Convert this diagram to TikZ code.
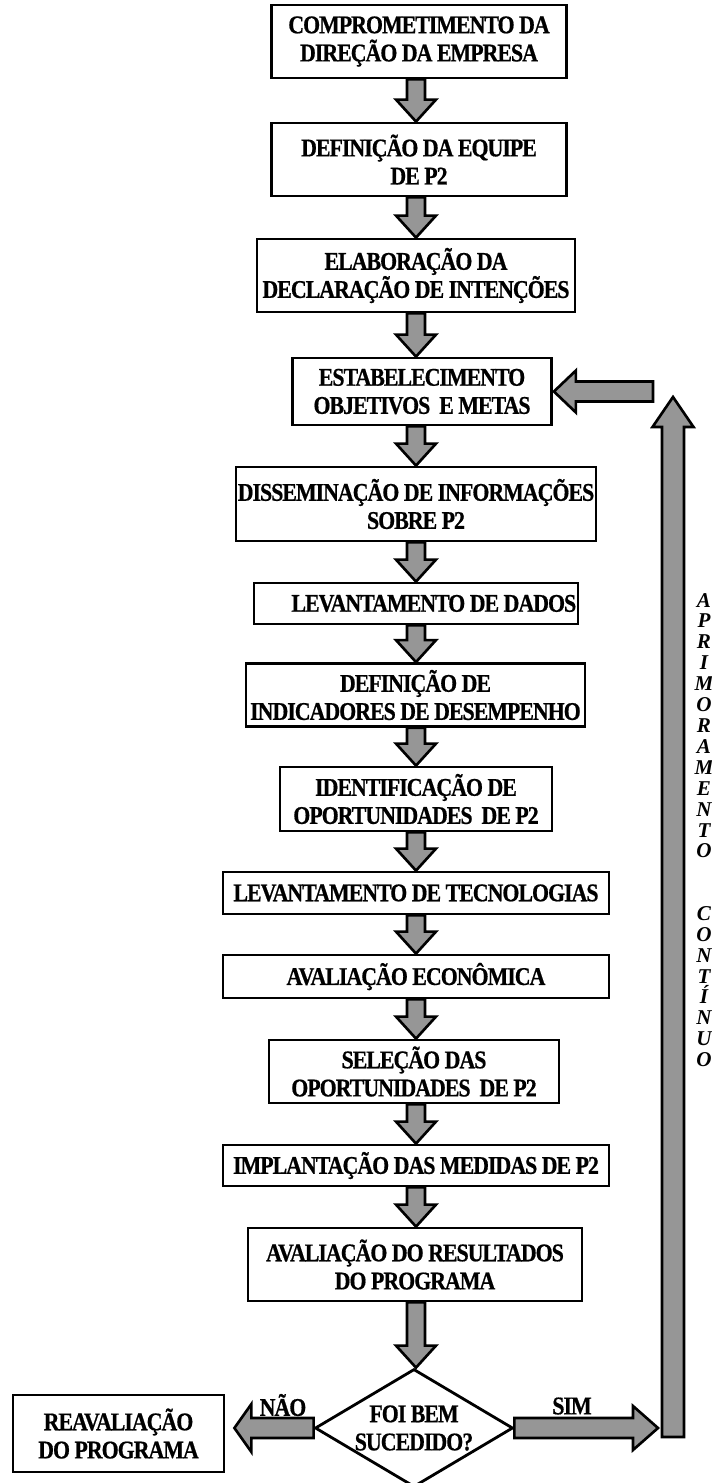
\documentclass[tikz,border=0pt]{standalone}
\usepackage{fontspec}
\setmainfont{Liberation Serif}[FakeStretch=0.86, LetterSpace=-4, BoldFeatures={FakeBold=0.6}]
\newfontfamily\sidefont{Liberation Serif}
\usetikzlibrary{calc,shapes.geometric}
\definecolor{arrowgray}{RGB}{150,150,150}
\tikzset{wh/.style 2 args={minimum width=#1*0.02cm, minimum height=#2*0.02cm}}

\begin{document}
\begin{tikzpicture}[x=0.02cm, y=-0.02cm,
  box/.style={draw, line width=1.6pt, fill=white, align=center, inner sep=1pt,
    font=\fontsize{14.5}{16}\selectfont\bfseries},
  fat/.style={draw, line width=1.5pt, fill=arrowgray, line join=miter},
  lbl/.style={font=\fontsize{14.5}{16}\selectfont\bfseries}]
\useasboundingbox (0,0) rectangle (712,1483);
\coordinate (spine) at (416,0);
% steps
\node[box, wh={295}{73}] (b1) at (419,41.5) {COMPROMETIMENTO DA\\DIREÇÃO DA EMPRESA};
\node[box, wh={295}{73}] (b2) at (419,159.5) {DEFINIÇÃO DA EQUIPE\\DE P2};
\node[box, wh={318}{73}] (b3) at (416,275.5) {ELABORAÇÃO DA\\DECLARAÇÃO DE INTENÇÕES};
\node[box, wh={259}{67}] (b4) at (422,391.5) {ESTABELECIMENTO\\OBJETIVOS~~E METAS};
\node[box, wh={360}{74}] (b5) at (416,504) {DISSEMINAÇÃO DE INFORMAÇÕES\\SOBRE P2};
\node[box, wh={316}{41}] (b6) at (416,603.5) {\hspace*{1.4em}LEVANTAMENTO DE DADOS};
\node[box, wh={339}{63}] (b7) at (415.5,695) {DEFINIÇÃO DE\\INDICADORES DE DESEMPENHO};
\node[box, wh={272}{64}] (b8) at (416,799) {IDENTIFICAÇÃO DE\\OPORTUNIDADES~~DE P2};
\node[box, wh={386}{42}] (b9) at (416,893) {LEVANTAMENTO DE TECNOLOGIAS};
\node[box, wh={386}{43}] (b10) at (416,976.5) {AVALIAÇÃO ECONÔMICA};
\node[box, wh={290}{63}] (b11) at (414,1071.5) {SELEÇÃO DAS\\OPORTUNIDADES~~DE P2};
\node[box, wh={386}{41}] (b12) at (416,1165.5) {IMPLANTAÇÃO DAS MEDIDAS DE P2};
\node[box, wh={334}{73}] (b13) at (415,1264.5) {AVALIAÇÃO DO RESULTADOS\\DO PROGRAMA};
% decision
\node[box, diamond, inner sep=0pt, aspect=1.68, wh={198}{118}] (dia) at (414,1428) {FOI BEM\\SUCEDIDO?};
\node[box, wh={211}{77}] (reav) at (118.5,1433.5) {REAVALIAÇÃO\\DO PROGRAMA};
% arrows down the chain
\foreach \a/\b in {b1/b2,b2/b3,b3/b4,b4/b5,b5/b6,b6/b7,b7/b8,b8/b9,b9/b10,b10/b11,b11/b12,b12/b13,b13/dia}
  \draw[fat] ($(\a.south -| spine)+(-9,0)$) -- ($(\b.north -| spine)+(-9,-22)$) -- ++(-11,0)
    -- (\b.north -| spine) -- ($(\b.north -| spine)+(20,-22)$) -- ++(-11,0)
    -- ($(\a.south -| spine)+(9,0)$) -- cycle;
% no / yes
\coordinate (ntip) at ($(reav.east |- dia.west)+(9,0)$);
\draw[fat] ($(dia.west)+(0,-10)$) -- ($(ntip)+(17,-10)$) -- ++(0,-14) -- (ntip)
  -- ($(ntip)+(17,24)$) -- ++(0,-14) -- ($(dia.west)+(0,10)$) -- cycle;
\node[lbl] (no) at (283,1405) {NÃO};
\coordinate (rtop) at (673,397);
\coordinate (rbot) at (673,1437);
\coordinate (ytip) at ($(dia.east -| rbot)+(-15,0)$);
\draw[fat] ($(dia.east)+(0,-10)$) -- ($(ytip)+(-25,-10)$) -- ++(0,-12) -- (ytip)
  -- ($(ytip)+(-25,22)$) -- ++(0,-12) -- ($(dia.east)+(0,10)$) -- cycle;
\node[lbl] (yes) at (572,1406) {SIM};
% feedback loop
\draw[fat] ($(rbot)+(-11,0)$) -- ($(rtop)+(-11,30)$) -- ++(-9.5,0) -- (rtop)
  -- ($(rtop)+(20.5,30)$) -- ++(-9.5,0) -- ($(rbot)+(11,0)$) -- cycle;
\coordinate (ltail) at (653,391.5);
\draw[fat] ($(ltail)+(0,-10)$) -- ($(b4.east)+(23,-10)$) -- ++(0,-11) -- ($(b4.east)+(1,0)$)
  -- ($(b4.east)+(23,21)$) -- ++(0,-11) -- ($(ltail)+(0,10)$) -- cycle;
\node[align=center, font=\sidefont\fontsize{12}{11.9}\selectfont\bfseries\itshape] (side) at (704,830)
  {A\\P\\R\\I\\M\\O\\R\\A\\M\\E\\N\\T\\O\\[0.83cm]C\\O\\N\\T\\Í\\N\\U\\O};
\end{tikzpicture}
\end{document}
